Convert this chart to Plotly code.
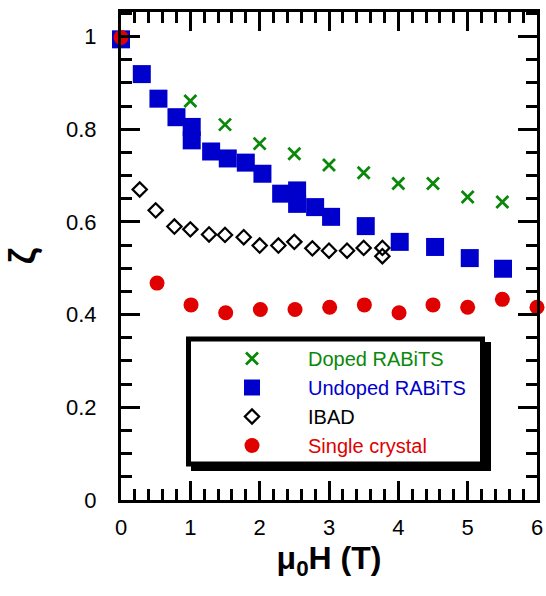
import plotly.graph_objects as go

# ---- data ----
doped_x = [1.0, 1.5, 2.0, 2.5, 3.0, 3.5, 4.0, 4.5, 5.0, 5.5]
doped_y = [0.861, 0.810, 0.769, 0.747, 0.723, 0.706, 0.683, 0.683, 0.654, 0.643]

undoped_x = [0.0, 0.3, 0.54, 0.8, 1.02, 1.02, 1.3, 1.54, 1.8, 2.04, 2.31, 2.54, 2.54,
             2.8, 3.03, 3.53, 4.02, 4.53, 5.03, 5.51]
undoped_y = [0.994, 0.919, 0.866, 0.826, 0.805, 0.776, 0.752, 0.737, 0.728, 0.704, 0.661,
             0.668, 0.639, 0.632, 0.611, 0.591, 0.557, 0.546, 0.522, 0.499]

ibad_x = [0.27, 0.5, 0.77, 1.0, 1.27, 1.5, 1.77, 2.0, 2.27, 2.5, 2.76, 3.0, 3.26, 3.5, 3.77, 3.77]
ibad_y = [0.670, 0.625, 0.590, 0.584, 0.573, 0.572, 0.567, 0.549, 0.549, 0.557, 0.543,
          0.538, 0.538, 0.544, 0.544, 0.526]

sc_x = [0.0, 0.52, 1.01, 1.51, 2.01, 2.51, 3.01, 3.51, 4.01, 4.5, 5.0, 5.5, 6.0]
sc_y = [0.998, 0.468, 0.421, 0.404, 0.411, 0.411, 0.416, 0.421, 0.404, 0.421, 0.416, 0.433, 0.416]

x_ticks = [0, 1, 2, 3, 4, 5, 6]
x_ticktext = ["0", "1", "2", "3", "4", "5", "6"]
y_ticks = [0, 0.2, 0.4, 0.6, 0.8, 1.0]
y_ticktext = ["0", "0.2", "0.4", "0.6", "0.8", "1"]

names = ["Doped RABiTS", "Undoped RABiTS", "IBAD", "Single crystal"]
GREEN, BLUE, BLACK, RED = "#0a880a", "#0000cc", "#000000", "#e00000"

FONT = "Liberation Sans, Arial, sans-serif"

W, H = 546, 596
L, R, T, B = 121, 9, 12, 96
PW, PH = W - L - R, H - T - B


def px_x(p):
    return (p - L) / PW


def px_y(p):
    return (H - B - p) / PH


fig = go.Figure()

fig.add_trace(go.Scatter(
    x=undoped_x, y=undoped_y, mode="markers",
    name=f"<span style='color:{BLUE}'>{names[1]}</span>", legendrank=2,
    marker=dict(symbol="square", size=18, color=BLUE, line=dict(width=0)),
    cliponaxis=False))
fig.add_trace(go.Scatter(
    x=ibad_x, y=ibad_y, mode="markers",
    name=f"<span style='color:{BLACK}'>{names[2]}</span>", legendrank=3,
    marker=dict(symbol="diamond-open", size=11, color=BLACK, line=dict(width=2.2, color=BLACK)),
    cliponaxis=False))
fig.add_trace(go.Scatter(
    x=doped_x, y=doped_y, mode="markers",
    name=f"<span style='color:{GREEN}'>{names[0]}</span>", legendrank=1,
    marker=dict(symbol="x-thin-open", size=12, color=GREEN, line=dict(width=2.8, color=GREEN)),
    cliponaxis=False))
fig.add_trace(go.Scatter(
    x=sc_x, y=sc_y, mode="markers",
    name=f"<span style='color:{RED}'>{names[3]}</span>", legendrank=4,
    marker=dict(symbol="circle", size=15, color=RED, line=dict(width=0)),
    cliponaxis=False))

# legend frame with drop shadow
fig.add_shape(type="rect", xref="paper", yref="paper",
              x0=px_x(191), x1=px_x(491), y0=px_y(471), y1=px_y(342),
              fillcolor="black", line=dict(width=0), layer="above")
fig.add_shape(type="rect", xref="paper", yref="paper",
              x0=px_x(188.5), x1=px_x(482.5), y0=px_y(464), y1=px_y(339),
              fillcolor="white", line=dict(width=5, color="black"), layer="above")

axis_common = dict(
    showline=True, linecolor="black", linewidth=3, mirror="ticks",
    ticks="inside", ticklen=19, tickwidth=2.5, tickcolor="black",
    showgrid=False, zeroline=False, automargin=False,
    tickfont=dict(family=FONT, size=22, color="black"),
)

fig.update_layout(
    width=W, height=H,
    margin=dict(l=L, r=R, t=T, b=B),
    paper_bgcolor="white", plot_bgcolor="white",
    showlegend=True,
    legend=dict(
        x=px_x(196), y=px_y(339), xanchor="left", yanchor="top",
        bgcolor="rgba(0,0,0,0)", borderwidth=0,
        font=dict(family=FONT, size=20, color="black"),
        itemwidth=102, traceorder="normal",
    ),
    xaxis=dict(
        range=[0, 6], tickmode="array", tickvals=x_ticks, ticktext=x_ticktext,
        minor=dict(ticks="inside", ticklen=11, tickwidth=2.5, tickcolor="black", dtick=0.2),
        ticklabelstandoff=6,
        title=dict(text="<b>μ<sub>0</sub>H (T)</b>",
                   font=dict(family=FONT, size=32, color="black"), standoff=8),
        **axis_common,
    ),
    yaxis=dict(
        range=[0, 1.053], tickmode="array", tickvals=y_ticks, ticktext=y_ticktext,
        minor=dict(ticks="inside", ticklen=11, tickwidth=2.5, tickcolor="black", dtick=0.05),
        ticklabelstandoff=17,
        title=dict(text="<b>ζ</b>", font=dict(family=FONT, size=36, color="black"), standoff=20),
        **axis_common,
    ),
)

fig.write_html(
    "out.html",
    config={"displayModeBar": False},
    post_script="document.body.style.margin='0';document.body.style.overflow='hidden';",
)
